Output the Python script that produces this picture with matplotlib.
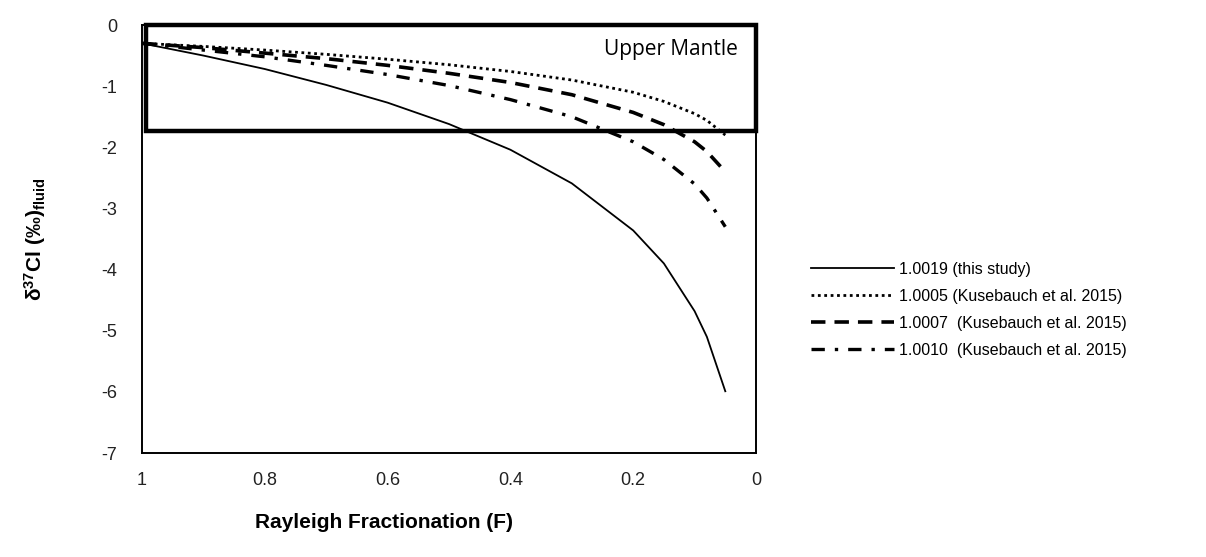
import numpy as np, matplotlib; matplotlib.use('Agg'); import matplotlib.pyplot as plt
from matplotlib.patches import Rectangle
plt.rcParams['font.family']=['Liberation Sans','DejaVu Sans']
plt.rcParams['axes.unicode_minus']=False
plt.rcParams['mathtext.fontset']='custom'
plt.rcParams['mathtext.rm']='Liberation Sans:bold'
plt.rcParams['mathtext.bf']='Liberation Sans:bold'
plt.rcParams['mathtext.it']='Liberation Sans:bold'

F=[1.0,0.9,0.8,0.7,0.6,0.5,0.4,0.3,0.2,0.15,0.1,0.08,0.05]
d19=[-0.30,-0.50,-0.72,-0.98,-1.27,-1.62,-2.04,-2.59,-3.36,-3.90,-4.68,-5.10,-5.99]
d05=[-0.30,-0.35,-0.41,-0.48,-0.56,-0.65,-0.76,-0.90,-1.10,-1.25,-1.45,-1.56,-1.80]
d07=[-0.30,-0.37,-0.46,-0.55,-0.66,-0.79,-0.94,-1.14,-1.43,-1.63,-1.91,-2.07,-2.40]
d10=[-0.30,-0.41,-0.52,-0.66,-0.81,-0.99,-1.22,-1.50,-1.91,-2.20,-2.60,-2.83,-3.30]
labels=['1.0019 (this study)','1.0005 (Kusebauch et al. 2015)','1.0007  (Kusebauch et al. 2015)','1.0010  (Kusebauch et al. 2015)']
xticks=[1,0.8,0.6,0.4,0.2,0]; xticklab=['1','0.8','0.6','0.4','0.2','0']
mantle_lo=-1.73

fig=plt.figure(figsize=(12.06,5.57),dpi=100)
ax=fig.add_axes([142/1206,1-453/557,614/1206,428/557])
ax.plot(F,d19,'k-',lw=1.3,label=labels[0])
ax.plot(F,d05,'k',ls=(0,(1,1.3)),lw=2.0,label=labels[1])
ax.plot(F,d07,'k',ls=(0,(4,2.5)),lw=2.6,label=labels[2])
ax.plot(F,d10,'k',ls=(0,(4,3,1,3)),lw=2.4,label=labels[3])
ax.add_patch(Rectangle((0,mantle_lo),0.993,-mantle_lo,fill=False,lw=3.2,ec='k',zorder=5,clip_on=False))
ax.text(0.03,-0.4,'Upper Mantle',ha='right',va='center',fontsize=15,family='Open Sans')
ax.set_xlim(1,0); ax.set_ylim(-7,0)
ax.set_xticks(xticks); ax.set_xticklabels(xticklab)
ax.set_yticks(range(-7,1))
ax.tick_params(length=0,labelsize=13,pad=14,colors='#222222')
ax.tick_params(axis='y',pad=18)
for s in ax.spines.values(): s.set_linewidth(1.4)
ax.set_ylabel(r'δ$^{37}$Cl (‰)$_{\rm fluid}$',fontsize=15,fontweight='bold',labelpad=38)
fig.text(384/1206,1-523/557,'Rayleigh Fractionation (F)',ha='center',va='center',fontsize=15,fontweight='bold')
fig.legend(loc='center left',bbox_to_anchor=(797/1206,1-310/557),frameon=False,fontsize=11.5,handlelength=5.2,handletextpad=0.3,labelspacing=0.75)
fig.savefig('out.png',dpi=100)
